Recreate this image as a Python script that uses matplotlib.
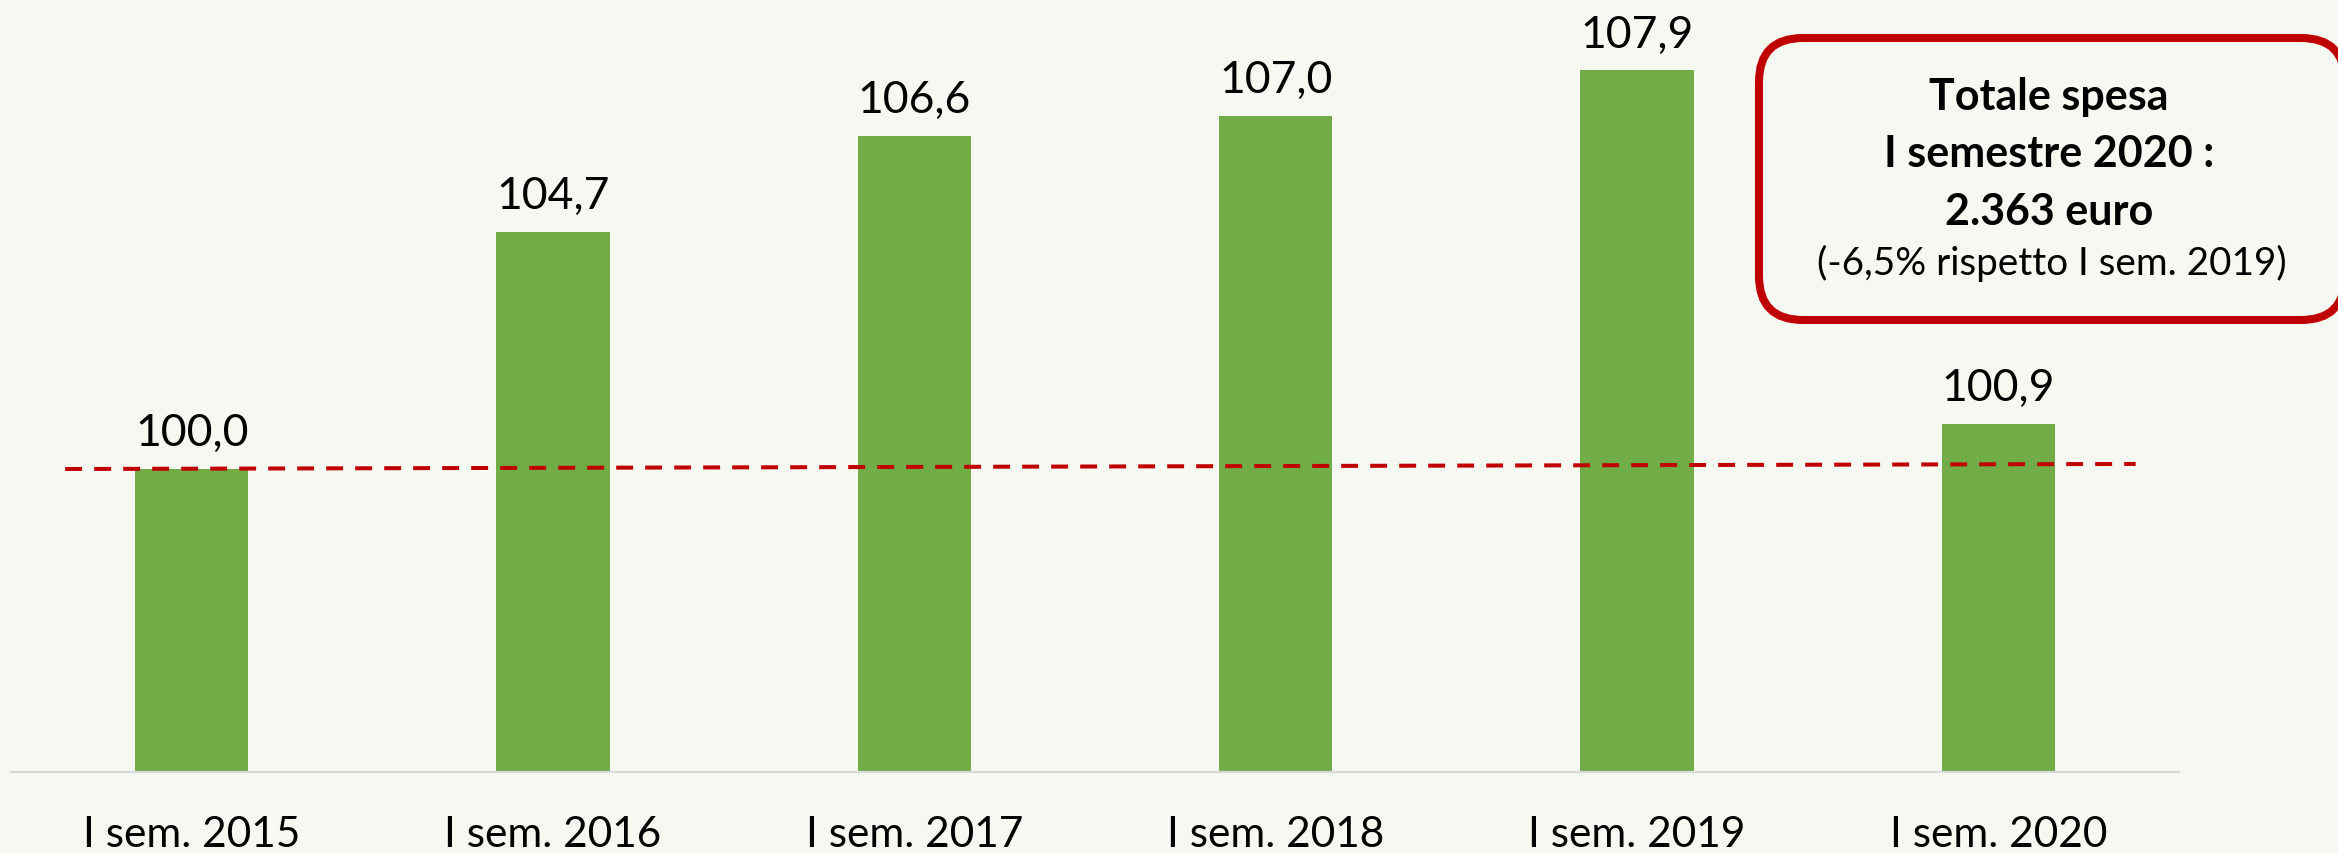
import numpy as np
import matplotlib.pyplot as plt
from matplotlib.patches import FancyBboxPatch
from matplotlib.transforms import IdentityTransform

# data
categories = ["I sem. 2015", "I sem. 2016", "I sem. 2017",
              "I sem. 2018", "I sem. 2019", "I sem. 2020"]
values = [100.0, 104.7, 106.6, 107.0, 107.9, 100.9]
value_labels = ["100,0", "104,7", "106,6", "107,0", "107,9", "100,9"]

# red dashed reference line (slightly tilted in the original)
ref_x = [-0.35, 5.38]
ref_y = [100.0, 100.1]

box_lines = ["Totale spesa", "I semestre 2020 :", "2.363 euro"]
box_note = "(-6,5% rispetto I sem. 2019)"

bg = "#F5F9F2"
green = "#70AD47"
red = "#C00000"

plt.rcParams["font.family"] = ["Lato", "DejaVu Sans"]

W, H = 2338, 854
fig = plt.figure(figsize=(W / 100, H / 100), dpi=100, facecolor=bg)
ax = fig.add_axes([11 / W, 81 / H, (2179 - 11) / W, 773 / H])
ax.set_facecolor(bg)

x = np.arange(len(categories))
ax.bar(x, values, width=0.313, color=green, zorder=2)
ax.set_xlim(-0.5, 5.5)
ax.set_ylim(94, 94 + 773 / 50.5)

for xi, v, lab in zip(x, values, value_labels):
    ax.annotate(lab, (xi, v), xytext=(0, 17), textcoords="offset points",
                ha="center", va="baseline", fontsize=32, color="black")

ax.plot(ref_x, ref_y, color=red, lw=2.9, dashes=(4.2, 3), zorder=3)

for s in ["top", "right", "left"]:
    ax.spines[s].set_visible(False)
ax.spines["bottom"].set_color("#D9D9D9")
ax.spines["bottom"].set_linewidth(1.6)
ax.set_yticks([])
ax.set_xticks(x)
ax.set_xticklabels(categories, fontsize=30.5)
ax.tick_params(axis="x", length=0, pad=31)

# summary box in the top right corner
box = FancyBboxPatch((1759, H - 321), 586, 282,
                     boxstyle="round,pad=0,rounding_size=44",
                     transform=IdentityTransform(), facecolor=bg,
                     edgecolor=red, linewidth=5.8, zorder=5)
fig.patches.append(box)

for line, base in zip(box_lines, [110, 167, 225]):
    fig.text(2049 / W, 1 - base / H, line, ha="center", va="baseline",
             fontsize=31, fontweight="bold", zorder=6)
fig.text(2052 / W, 1 - 275 / H, box_note, ha="center", va="baseline",
         fontsize=27.8, zorder=6)

fig.savefig("out.png", dpi=100, facecolor=bg)
